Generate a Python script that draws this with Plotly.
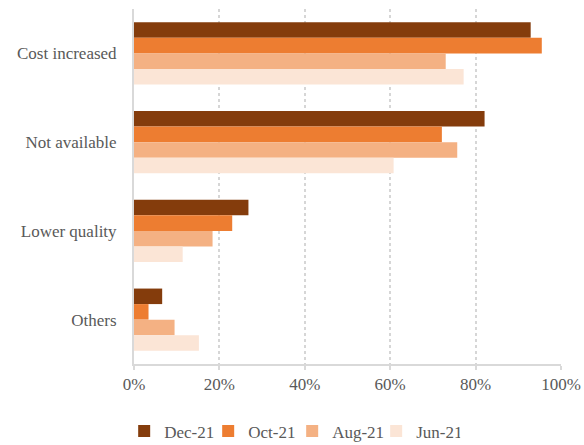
import plotly.graph_objects as go

categories = ["Cost increased", "Not available", "Lower quality", "Others"]
series_names = ["Dec-21", "Oct-21", "Aug-21", "Jun-21"]
dec21 = [0.929, 0.821, 0.268, 0.066]
oct21 = [0.955, 0.721, 0.230, 0.034]
aug21 = [0.730, 0.757, 0.184, 0.095]
jun21 = [0.772, 0.608, 0.114, 0.152]
x_ticks = [0, 0.2, 0.4, 0.6, 0.8, 1.0]
x_tick_labels = ["0%", "20%", "40%", "60%", "80%", "100%"]

colors = ["#843C0C", "#ED7D31", "#F4B183", "#FBE5D6"]
values = [dec21, oct21, aug21, jun21]

font_family = "Liberation Serif, DejaVu Serif, serif"
text_color = "#595959"

fig = go.Figure()
for name, vals, col in zip(series_names, values, colors):
    fig.add_trace(go.Bar(
        y=categories, x=vals, name=name, orientation="h",
        marker=dict(color=col, line=dict(width=0)),
    ))

fig.update_layout(
    width=584, height=445,
    margin=dict(l=134, r=23, t=8.5, b=80.5, autoexpand=False),
    paper_bgcolor="white", plot_bgcolor="white",
    barmode="group", bargap=0.3, bargroupgap=0,
    font=dict(family=font_family, color=text_color, size=17),
    showlegend=True,
    legend=dict(orientation="h", x=-0.023, xanchor="left", y=-0.19, yanchor="middle",
                font=dict(size=17, color=text_color), itemwidth=30,
                entrywidth=39, entrywidthmode="pixels",
                traceorder="normal"),
    xaxis=dict(range=[0, 1.0], tickvals=x_ticks, ticktext=x_tick_labels,
               showgrid=True, gridcolor="#d6d6d6", griddash="dot", gridwidth=2,
               showline=True, linecolor="#d9d9d9", linewidth=2,
               ticks="outside", ticklen=4, tickcolor="#d9d9d9", tickwidth=2,
               zeroline=False, tickfont=dict(size=17, color=text_color)),
    yaxis=dict(autorange="reversed", showline=True, linecolor="#d9d9d9", linewidth=2,
               showgrid=False, ticks="", ticklabelstandoff=12,
               tickfont=dict(size=17, color=text_color)),
)

fig.write_html("out.html", config={"displayModeBar": False},
               post_script="document.body.style.margin='0';")
